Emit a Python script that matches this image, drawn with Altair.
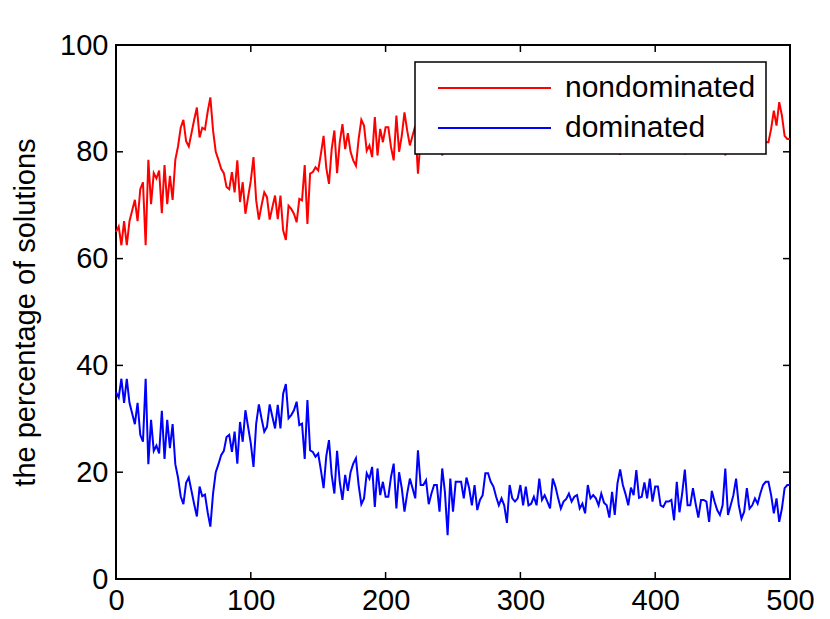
import altair as alt
import pandas as pd

# ---------------- data ----------------
x_values = list(range(0, 501, 2))

dominated = [
    35, 34, 37.5, 33, 37.5, 33, 31, 29, 33, 27, 25.7, 37.5, 21.5, 29.8, 24, 25, 23.5, 31.5, 22.5, 29.8,
    24.5, 29, 21.5, 19, 15.5, 14, 18, 19, 16.5, 14, 11.7, 17.3, 15.5, 15.8, 12.5, 9.8, 16, 20, 21.5, 23.2,
    24, 26.6, 27,
    23.8, 27.6, 21.6, 29.4, 25.7, 31.6, 28.5, 25.4, 21, 29.1, 32.7, 30, 27.6, 28.5, 32.7, 30.4, 28.2, 32.6,
    28.2, 34.7, 36.5, 30.1, 30.7, 31.6, 33.2, 28.8, 29.1, 22.5, 33.5, 24.1, 23.8, 22.9, 23.5, 20.4, 17, 23,
    26, 19.5, 16, 24, 18.2, 14.8,
    19.5, 16.5, 20, 21.6, 22.6, 17.6, 14, 15.1, 19.8, 18.8, 21, 13.5, 20.7, 15.7, 18.2, 15.4, 15.4, 19.1,
    21.6, 13.2, 20, 17, 12.6, 16, 18.8, 17, 15.1, 24.1, 17.6, 17.6, 18.5, 14, 16, 17.6, 17.6, 12.6, 20.7,
    16.3, 8.2, 18.8, 12.6, 18.2,
    18.2, 18.2, 15.1, 19, 17, 13.8, 17.6, 12.9, 14.8, 15.7, 19.8, 19.8, 18.2, 17.3, 15.4, 13.8, 15.1, 13.8,
    10.5, 17.6, 15.1, 14.5, 15.1, 17.6, 13.8, 17.3, 13.8, 14.1, 15.4, 13.8, 18.8, 14.8, 15.7, 14.5, 13.2,
    18.8, 17.3, 15.1, 13.2, 14.5, 15, 16, 14.5,
    15.4, 15.7, 13.2, 14.1, 12.3, 17.6, 15.1, 15.7, 15.1, 13.8, 16, 14.3, 13.8, 11.5, 16.3, 12, 17.9, 20.5,
    17.6, 15.9, 13.8, 17.1, 15.7, 20.4, 15.2, 15.4, 18.1, 15.1, 18.8, 14.5, 17.3, 17.3, 13.8, 13.5, 14.5,
    14.5, 14.8, 11, 18.2, 12.5, 16,
    20.5, 13.8, 13.8, 17, 14.1, 11.5, 14.8, 14.8, 14.5, 10.7, 16.5, 14.5, 12.9, 12, 13.8, 20.7, 12, 13.8,
    15.7, 18.8, 13.8, 11.3, 12.6, 17, 13.2, 13.8, 15.1, 14.1, 16, 17.6, 18.2, 18.2, 15.7, 12.3, 15.1, 10.7,
    13.2, 17, 17.6, 17.6,
]

nondominated = [
    65, 66, 62.5, 67, 62.5, 67, 69, 71, 67, 73, 74.3, 62.5, 78.5, 70.2, 76, 75, 76.5, 68.5, 77.5, 70.2,
    75.5, 71, 78.5, 81, 84.5, 86, 82, 81, 83.5, 86, 88.3, 82.7, 84.5, 84.2, 87.5, 90.2, 84, 80, 78.5, 76.8,
    76, 73.4, 73,
    76.2, 72.4, 78.4, 70.6, 74.3, 68.4, 71.5, 74.6, 79, 70.9, 67.3, 70, 72.4, 71.5, 67.3, 69.6, 71.8, 67.4,
    71.8, 65.3, 63.5, 69.9, 69.3, 68.4, 66.8, 71.2, 70.9, 77.5, 66.5, 75.9, 76.2, 77.1, 76.5, 79.6, 83, 77,
    74, 80.5, 84, 76, 81.8, 85.2,
    80.5, 83.5, 80, 78.4, 77.4, 82.4, 86, 84.9, 80.2, 81.2, 79, 86.5, 79.3, 84.3, 81.8, 84.6, 84.6, 80.9,
    78.4, 86.8, 80, 83, 87.4, 84, 81.2, 83, 84.9, 75.9, 82.4, 82.4, 81.5, 86, 84, 82.4, 82.4, 87.4, 79.3,
    83.7, 91.8, 81.2, 87.4, 81.8,
    81.8, 81.8, 84.9, 81, 83, 86.2, 82.4, 87.1, 85.2, 84.3, 80.2, 80.2, 81.8, 82.7, 84.6, 86.2, 84.9, 86.2,
    89.5, 82.4, 84.9, 85.5, 84.9, 82.4, 86.2, 82.7, 86.2, 85.9, 84.6, 86.2, 81.2, 85.2, 84.3, 85.5, 86.8,
    81.2, 82.7, 84.9, 86.8, 85.5, 85, 84, 85.5,
    84.6, 84.3, 86.8, 85.9, 87.7, 82.4, 84.9, 84.3, 84.9, 86.2, 84, 85.7, 86.2, 88.5, 83.7, 88, 82.1, 79.5,
    82.4, 84.1, 86.2, 82.9, 84.3, 79.6, 84.8, 84.6, 81.9, 84.9, 81.2, 85.5, 82.7, 82.7, 86.2, 86.5, 85.5,
    85.5, 85.2, 89, 81.8, 87.5, 84,
    79.5, 86.2, 86.2, 83, 85.9, 88.5, 85.2, 85.2, 85.5, 89.3, 83.5, 85.5, 87.1, 88, 86.2, 79.3, 88, 86.2,
    84.3, 81.2, 86.2, 88.7, 87.4, 83, 86.8, 86.2, 84.9, 85.9, 84, 82.4, 81.8, 81.8, 84.3, 87.7, 84.9, 89.3,
    86.8, 83, 82.4, 82.4,
]

series_names = ["nondominated", "dominated"]
series_colors = ["#ff0000", "#0000ff"]
x_ticks = [0, 100, 200, 300, 400, 500]
y_ticks = [0, 20, 40, 60, 80, 100]
y_title = "the percentage of solutions"

# ---------------- build table ----------------
rows = []
for name, vals in zip(series_names, [nondominated, dominated]):
    for xv, v in zip(x_values, vals):
        rows.append({"x": xv, "value": v, "series": name})
df = pd.DataFrame(rows)

FONT = "Liberation Sans"
W, H = 674, 534
TL = 7  # inward tick length

xs = alt.Scale(domain=[0, 500], nice=False, zero=False)
ys = alt.Scale(domain=[0, 100], nice=False, zero=False)

x_axis = alt.Axis(values=x_ticks, title=None, ticks=False, tickSize=0, domain=False, grid=False,
                  labelFontSize=29, labelFont=FONT, labelColor="black", labelPadding=7,
                  labelFlush=False)
y_axis = alt.Axis(values=y_ticks, title=y_title, ticks=False, tickSize=0, domain=False, grid=False,
                  labelFontSize=29, labelFont=FONT, labelColor="black", labelPadding=8,
                  titleFont=FONT, titleFontSize=29, titleFontWeight="normal", titleColor="black",
                  titleX=-91, titleY=H / 2, titleAngle=270, titleAlign="center",
                  titleBaseline="middle")

lines = alt.Chart(df).mark_line(strokeWidth=2).encode(
    x=alt.X("x:Q", scale=xs, axis=x_axis, title=None),
    y=alt.Y("value:Q", scale=ys, axis=y_axis, title=y_title),
    color=alt.Color("series:N",
                    scale=alt.Scale(domain=series_names, range=series_colors),
                    legend=alt.Legend(title=None, orient="none", legendX=299, legendY=17,
                                      fillColor="white", strokeColor="black", padding=10,
                                      symbolType="stroke", symbolSize=12769, symbolStrokeWidth=2,
                                      symbolOffset=12, labelOffset=13, labelFontSize=30, labelFont=FONT,
                                      labelColor="black", clipHeight=32, rowPadding=8, labelLimit=400)),
    order=alt.Order("x:Q"),
)

tick_y = pd.DataFrame({"value": y_ticks})
tick_x = pd.DataFrame({"x": x_ticks})
rule_style = dict(color="black", strokeWidth=1.5)

left_ticks = alt.Chart(tick_y).mark_rule(**rule_style).encode(
    y=alt.Y("value:Q", scale=ys, axis=y_axis, title=y_title), x=alt.value(0), x2=alt.value(TL))
right_ticks = alt.Chart(tick_y).mark_rule(**rule_style).encode(
    y=alt.Y("value:Q", scale=ys, axis=y_axis, title=y_title), x=alt.value(W - TL), x2=alt.value(W))
bottom_ticks = alt.Chart(tick_x).mark_rule(**rule_style).encode(
    x=alt.X("x:Q", scale=xs, axis=x_axis, title=None), y=alt.value(H), y2=alt.value(H - TL))
top_ticks = alt.Chart(tick_x).mark_rule(**rule_style).encode(
    x=alt.X("x:Q", scale=xs, axis=x_axis, title=None), y=alt.value(0), y2=alt.value(TL))

chart = alt.layer(lines, left_ticks, right_ticks, bottom_ticks, top_ticks).properties(
    width=W, height=H,
    autosize=alt.AutoSizeParams(type="none"),
    padding={"left": 108, "top": 37, "right": 24, "bottom": 38},
    background="white",
).configure_view(stroke="black", strokeWidth=2).configure_legend(strokeWidth=1.5)

chart.save("out.html", embed_options={"renderer": "svg", "actions": False})
